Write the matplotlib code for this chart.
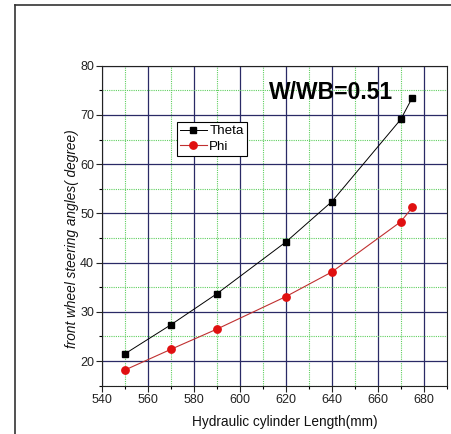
import matplotlib
matplotlib.use("Agg")
import matplotlib.pyplot as plt
import matplotlib.ticker as ticker
from matplotlib.lines import Line2D

plt.rcParams["font.family"] = ["Liberation Sans", "DejaVu Sans"]

# ---------------------------------------------------------------------------
# Data
# ---------------------------------------------------------------------------
LENGTH = [550, 570, 590, 620, 640, 670, 675]
THETA  = [21.5, 27.4, 33.7, 44.2, 52.4, 69.1, 73.5]
PHI    = [18.2, 22.4, 26.5, 33.1, 38.1, 48.3, 51.2]

X_LABEL = "Hydraulic cylinder Length(mm)"
Y_LABEL = "front wheel steering angles( degree)"
NOTE    = "W/WB=0.51"

MAJOR = "#2a2a66"
MINOR = "#5fcf5f"

fig = plt.figure(figsize=(4.52, 4.34), dpi=100)
ax = fig.add_axes([0.2263, 0.1115, 0.7620, 0.7371])

ax.plot(LENGTH, THETA, color="black", linewidth=0.7, marker="s",
        markersize=4.8, markerfacecolor="black", markeredgecolor="black",
        label="Theta", zorder=3)
ax.plot(LENGTH, PHI, color="#c03030", linewidth=0.8, marker="o",
        markersize=5.3, markerfacecolor="#e01010", markeredgecolor="#e01010",
        label="Phi", zorder=3)

ax.set_xlim(540, 690)
ax.set_ylim(15, 80)
ax.xaxis.set_major_locator(ticker.MultipleLocator(20))
ax.xaxis.set_minor_locator(ticker.MultipleLocator(10))
ax.yaxis.set_major_locator(ticker.MultipleLocator(10))
ax.yaxis.set_minor_locator(ticker.MultipleLocator(5))

ax.grid(True, which="major", color=MAJOR, linewidth=0.9, linestyle="-")
ax.grid(True, which="minor", color=MINOR, linewidth=0.8, linestyle=(0, (1, 1)))
ax.set_axisbelow(True)

ax.tick_params(which="major", direction="out", length=4, width=0.8,
               labelsize=9, colors="#222222", pad=2)
ax.tick_params(which="minor", direction="out", length=2.5, width=0.8)
for s in ax.spines.values():
    s.set_color("#222222")
    s.set_linewidth(0.8)

ax.set_xlabel(X_LABEL, fontsize=9.8, color="#111111")
ax.set_ylabel(Y_LABEL, fontsize=9.8, style="italic", color="#111111")
ax.xaxis.set_label_coords(0.53, -0.092)
ax.yaxis.set_label_coords(-0.068, 0.46)

ax.text(639.5, 74.6, NOTE, fontsize=16.5, fontweight="bold",
        ha="center", va="center", zorder=4)

leg = ax.legend(loc="upper left", bbox_to_anchor=(0.216, 0.825),
                borderaxespad=0, fancybox=False, framealpha=1,
                edgecolor="black", fontsize=9.6, handlelength=2.0,
                handletextpad=0.2, borderpad=0.25, labelspacing=0.25)
leg.get_frame().set_linewidth(0.8)

# outer frame lines (left and top only)
fig.add_artist(Line2D([15 / 452, 15 / 452], [0, 1 - 5 / 434],
                      transform=fig.transFigure, color="#333333", linewidth=1.2))
fig.add_artist(Line2D([15 / 452, 1], [1 - 5 / 434, 1 - 5 / 434],
                      transform=fig.transFigure, color="#333333", linewidth=1.2))

fig.savefig("out.png", dpi=100)
